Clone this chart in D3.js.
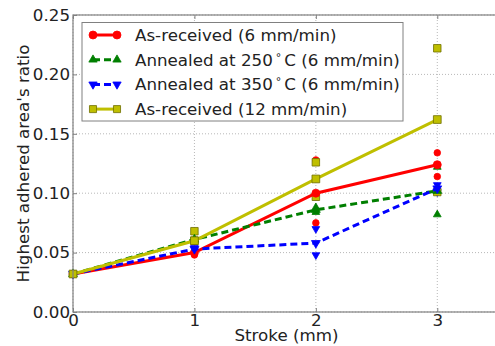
<!DOCTYPE html>
<html>
<head>
<meta charset="utf-8">
<script src="https://cdn.jsdelivr.net/npm/d3@7"></script>
<style>
  body { margin: 0; background: #fff; }
  svg text { font-family: "DejaVu Sans", sans-serif; fill: #222; }
</style>
</head>
<body>
<svg id="chart"></svg>
<script>
// mean curves
const strokes = [0, 1, 2, 3];
const seriesNames = [
    ["As-received (6 mm/min)"],
    ["Annealed at 250", "\u00b0", "C (6 mm/min)"],
    ["Annealed at 350", "\u00b0", "C (6 mm/min)"],
    ["As-received (12 mm/min)"]
];
const asReceived6 = [0.032, 0.050, 0.100, 0.124];
const annealed250 = [0.032, 0.061, 0.086, 0.102];
const annealed350 = [0.032, 0.053, 0.058, 0.104];
const asReceived12 = [0.032, 0.060, 0.112, 0.162];

// individual measurements [stroke, value]
const ptsAsReceived6 = [[1, 0.048], [2, 0.128], [2, 0.075], [3, 0.134], [3, 0.114]];
const ptsAnnealed250 = [[1, 0.061], [2, 0.088], [2, 0.084], [3, 0.122], [3, 0.082]];
const ptsAnnealed350 = [[1, 0.054], [2, 0.070], [2, 0.048], [3, 0.107], [3, 0.101]];
const ptsAsReceived12 = [[1, 0.068], [1, 0.060], [2, 0.126], [2, 0.097], [3, 0.222], [3, 0.101]];

const xTicks = [0, 1, 2, 3];
const yTicks = [0, 0.05, 0.10, 0.15, 0.20, 0.25];

const width = 495, height = 346,
      margin = {top: 15, right: -3, bottom: 34, left: 73},
      svg = d3.select("#chart").attr("width", width).attr("height", height);

const x = d3.scaleLinear().domain([0, 3.5]).range([margin.left, width - margin.right]);
const y = d3.scaleLinear().domain([0, 0.25]).range([height - margin.bottom, margin.top]);

// sizes: [scatter, mean, legend]
const series = [
    {name: seriesNames[0], mean: asReceived6, pts: ptsAsReceived6, color: "#ff0000", edge: "#ff0000", dash: null, shape: d3.symbolCircle, sizes: [34, 50, 50]},
    {name: seriesNames[1], mean: annealed250, pts: ptsAnnealed250, color: "#007f00", edge: "#007f00", dash: "7,4", shape: d3.symbolTriangle, sizes: [26, 34, 30]},
    {name: seriesNames[2], mean: annealed350, pts: ptsAnnealed350, color: "#0000ff", edge: "#0000ff", dash: "7,4", shape: "down", sizes: [26, 34, 30]},
    {name: seriesNames[3], mean: asReceived12, pts: ptsAsReceived12, color: "#bfbf00", edge: "#6f6f00", dash: null, shape: d3.symbolSquare, sizes: [56, 60, 50]}
];

// grid
const grid = svg.append("g").attr("stroke", "#b8b8b8").attr("stroke-dasharray", "1,2").attr("stroke-width", 1);
grid.selectAll(".gx").data(xTicks).enter().append("line")
    .attr("x1", d => x(d)).attr("x2", d => x(d))
    .attr("y1", y(0)).attr("y2", y(0.25));
grid.selectAll(".gy").data(yTicks).enter().append("line")
    .attr("x1", x(0)).attr("x2", x(3.5))
    .attr("y1", d => y(d)).attr("y2", d => y(d));

function marker(sel, s, size, px, py) {
    const shape = s.shape === "down" ? d3.symbolTriangle : s.shape;
    sel.attr("d", d3.symbol(shape, size))
        .attr("fill", s.color).attr("stroke", s.edge).attr("stroke-width", 0.8)
        .attr("transform", (d, i) => `translate(${[px(d, i), py(d, i)]})` + (s.shape === "down" ? " rotate(180)" : ""));
}

const line = d3.line().x((d, i) => x(strokes[i])).y(d => y(d));

series.forEach(s => {
    // scattered measurements
    const p = svg.append("g").selectAll("path").data(s.pts).enter().append("path");
    marker(p, s, s.sizes[0], d => x(d[0]), d => y(d[1]));
});

series.forEach(s => {
    const g = svg.append("g");
    g.append("path").datum(s.mean)
        .attr("d", line)
        .attr("fill", "none")
        .attr("stroke", s.color)
        .attr("stroke-width", 3)
        .attr("stroke-dasharray", s.dash);
    const m = g.selectAll(".m").data(s.mean).enter().append("path");
    marker(m, s, s.sizes[1], (d, i) => x(strokes[i]), d => y(d));
});

// frame
svg.append("rect")
    .attr("x", x(0)).attr("y", y(0.25))
    .attr("width", x(3.5) - x(0)).attr("height", y(0) - y(0.25))
    .attr("fill", "none").attr("stroke", "#808080").attr("stroke-width", 1.2);

// axes
const xAxis = svg.append("g").attr("transform", `translate(0,${y(0)})`)
    .call(d3.axisBottom(x).tickValues(xTicks).tickFormat(d3.format("d")).tickSizeInner(-4).tickSizeOuter(0).tickPadding(2));
const xTop = svg.append("g").attr("transform", `translate(0,${y(0.25)})`)
    .call(d3.axisTop(x).tickValues(xTicks).tickFormat("").tickSizeInner(-4).tickSizeOuter(0));
const yAxis = svg.append("g").attr("transform", `translate(${x(0)},0)`)
    .call(d3.axisLeft(y).tickValues(yTicks).tickFormat(d3.format(".2f")).tickSizeInner(-4).tickSizeOuter(0).tickPadding(3));
[xAxis, xTop, yAxis].forEach(a => {
    a.select(".domain").remove();
    a.selectAll("line").attr("stroke", "#808080");
    a.selectAll("text").style("font-size", "16.7px").attr("fill", "#222");
});

svg.append("text")
    .attr("x", (x(0) + x(3.5)) / 2 + 1).attr("y", 341)
    .attr("text-anchor", "middle").style("font-size", "16.7px")
    .text("Stroke (mm)");

svg.append("text")
    .attr("transform", `translate(29,${(y(0) + y(0.25)) / 2}) rotate(-90)`)
    .attr("text-anchor", "middle").style("font-size", "16.7px")
    .text("Highest adhered area's ratio");

// legend
const legend = svg.append("g").attr("transform", "translate(82,22.5)");
legend.append("rect").attr("width", 321).attr("height", 98.5)
    .attr("fill", "#fff").attr("stroke", "#808080").attr("stroke-width", 1);
series.forEach((s, i) => {
    const row = legend.append("g").attr("transform", `translate(0,${12.5 + i * 24.7})`);
    row.append("line").attr("x1", 11).attr("x2", 35)
        .attr("stroke", s.color).attr("stroke-width", 3).attr("stroke-dasharray", s.dash);
    const m = row.selectAll("path").data([11, 35]).enter().append("path");
    marker(m, s, s.sizes[2], d => d, () => 0);
    const t = row.append("text").attr("x", 53).attr("dy", "0.36em")
        .style("font-size", "16.7px");
    t.append("tspan").text(s.name[0]);
    if (s.name.length > 1) {
        t.append("tspan").attr("dx", 3).attr("dy", "-0.45em").style("font-size", "11px").text(s.name[1]);
        t.append("tspan").attr("dx", 3).attr("dy", "0.3em").text(s.name[2]);
    }
});
</script>
</body>
</html>
